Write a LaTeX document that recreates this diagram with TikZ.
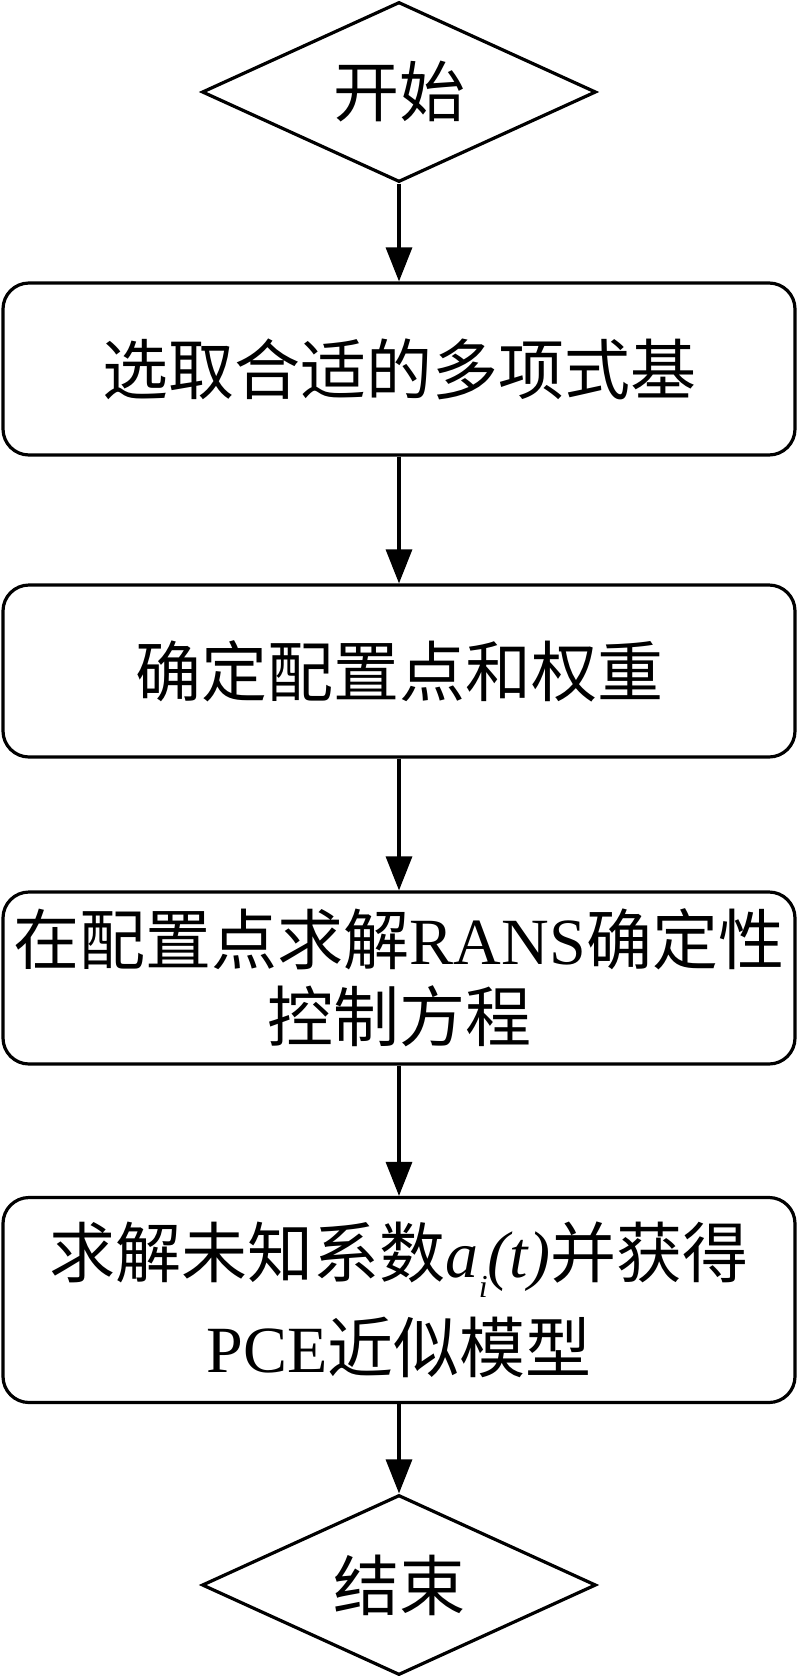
\documentclass[tikz,border=0pt]{standalone}
\usepackage{fontspec}
\setmainfont{Liberation Serif}
\newfontfamily\cjk{Noto Sans CJK SC}
\usetikzlibrary{shapes.geometric, arrows.meta}
\tikzset{>={Triangle[length=17pt, width=13pt]}}
\tikzset{
    stepbox/.style = {draw, line width=1.6pt, rounded corners=13pt,
        minimum width=396pt, minimum height=86pt, inner sep=0pt,
        align=center, font=\fontsize{33}{38.5}\selectfont},
    termbox/.style = {draw, diamond, aspect=2.2, line width=1.6pt,
        minimum width=197pt, minimum height=90pt, inner sep=0pt,
        font=\fontsize{33}{38.5}\selectfont\cjk},
    flow/.style = {->, line width=1.6pt}
}

\begin{document}
\begin{tikzpicture}[x=0.5pt, y=-0.5pt]
    \useasboundingbox (0,0) rectangle (797,1676);
    \node[termbox] (start) at (399,92) {开始};
    \node[stepbox] (basis) at (399,369) {\cjk 选取合适的多项式基};
    \node[stepbox] (weight) at (399,671) {\cjk 确定配置点和权重};
    \node[stepbox] (rans) at (399,978)
        {{\cjk 在配置点求解}RANS{\cjk 确定性}\\{\cjk 控制方程}};
    \node[stepbox, minimum height=102.5pt, font=\fontsize{33}{47.5}\selectfont] (pce) at (399,1300)
        {{\cjk 求解未知系数}\textit{a}\raisebox{-10pt}{\fontsize{16}{16}\selectfont\itshape i}\textit{(t)}{\cjk 并获得}\\PCE{\cjk 近似模型}};
    \node[termbox] (stop) at (399,1585) {结束};
    % arrows
    \draw[flow] (start) -- (basis);
    \draw[flow] (basis) -- (weight);
    \draw[flow] (weight) -- (rans);
    \draw[flow] (rans) -- (pce);
    \draw[flow] (pce) -- (stop);
\end{tikzpicture}
\end{document}
